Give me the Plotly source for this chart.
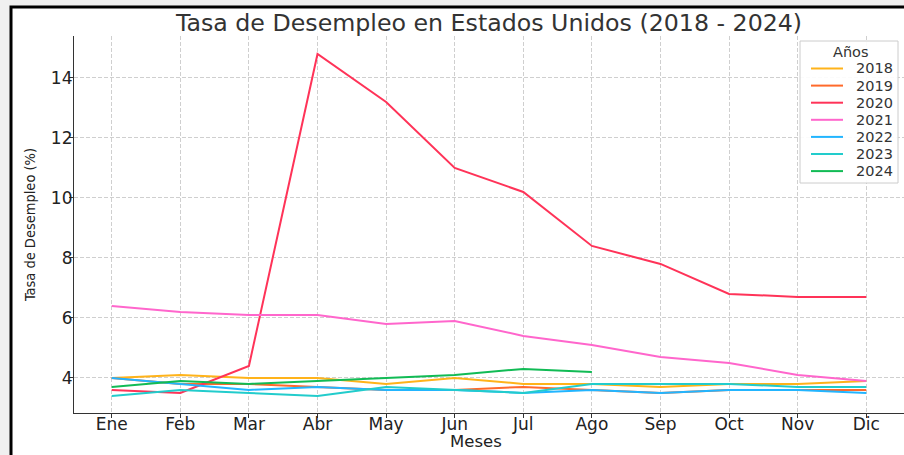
import plotly.graph_objects as go

meses = ["Ene", "Feb", "Mar", "Abr", "May", "Jun", "Jul", "Ago", "Sep", "Oct", "Nov", "Dic"]

tasa_2018 = [4.0, 4.1, 4.0, 4.0, 3.8, 4.0, 3.8, 3.8, 3.7, 3.8, 3.8, 3.9]
tasa_2019 = [4.0, 3.8, 3.8, 3.7, 3.6, 3.6, 3.7, 3.6, 3.5, 3.6, 3.6, 3.6]
tasa_2020 = [3.6, 3.5, 4.4, 14.8, 13.2, 11.0, 10.2, 8.4, 7.8, 6.8, 6.7, 6.7]
tasa_2021 = [6.4, 6.2, 6.1, 6.1, 5.8, 5.9, 5.4, 5.1, 4.7, 4.5, 4.1, 3.9]
tasa_2022 = [4.0, 3.8, 3.6, 3.7, 3.6, 3.6, 3.5, 3.6, 3.5, 3.6, 3.6, 3.5]
tasa_2023 = [3.4, 3.6, 3.5, 3.4, 3.7, 3.6, 3.5, 3.8, 3.8, 3.8, 3.7, 3.7]
tasa_2024 = [3.7, 3.9, 3.8, 3.9, 4.0, 4.1, 4.3, 4.2]

y_ticks = [4, 6, 8, 10, 12, 14]

series = [
    ("2018", tasa_2018, "#FFB31A"),
    ("2019", tasa_2019, "#FF6A2B"),
    ("2020", tasa_2020, "#FF3358"),
    ("2021", tasa_2021, "#FF66CC"),
    ("2022", tasa_2022, "#22B5FF"),
    ("2023", tasa_2023, "#22CCCC"),
    ("2024", tasa_2024, "#11BB55"),
]

fig = go.Figure()
xs = list(range(len(meses)))
for name, vals, color in series:
    fig.add_trace(go.Scatter(
        x=xs[:len(vals)], y=vals, mode="lines", name=name,
        line=dict(color=color, width=2), showlegend=False,
    ))

W, H = 904, 455
L, R, T, B = 74, 0, 36, 42
pw = W - L - R
ph = H - T - B

def px2x(px):
    return (px - L) / pw

def py2y(py):
    return (H - B - py) / ph

# figure frame (white area with black border, grey outside)
fig.add_shape(
    type="rect", xref="paper", yref="paper",
    x0=px2x(11), x1=1.3, y0=-0.5, y1=py2y(7),
    line=dict(color="black", width=3), fillcolor="white", layer="below",
)

fig.add_annotation(
    text="Meses", xref="paper", yref="paper",
    x=px2x(476), y=py2y(441), xanchor="center", yanchor="middle",
    showarrow=False, font=dict(family="DejaVu Sans", size=16.5, color="#222222"),
)

# legend box drawn in the matplotlib style
leg_font = dict(family="DejaVu Sans", size=14.5, color="#333333")
fig.add_shape(
    type="rect", xref="paper", yref="paper",
    x0=px2x(800), x1=px2x(898), y0=py2y(183), y1=py2y(41),
    line=dict(color="#cccccc", width=1), fillcolor="rgba(255,255,255,0.9)", layer="above",
)
fig.add_annotation(
    text="Años", xref="paper", yref="paper",
    x=px2x(851), y=py2y(52), xanchor="center", yanchor="middle",
    showarrow=False, font=leg_font,
)
for i, (name, vals, color) in enumerate(series):
    yc = py2y(68.5 + 17.1 * i)
    fig.add_shape(
        type="line", xref="paper", yref="paper",
        x0=px2x(811), x1=px2x(843), y0=yc, y1=yc,
        line=dict(color=color, width=2), layer="above",
    )
    fig.add_annotation(
        text=name, xref="paper", yref="paper",
        x=px2x(854), y=yc, xanchor="left", yanchor="middle",
        showarrow=False, font=leg_font,
    )

axis_common = dict(
    showline=True, linecolor="#333333", linewidth=1.2,
    ticks="outside", ticklen=4, tickcolor="#333333",
    showgrid=True, gridcolor="#cfcfcf", griddash="4px,2px", gridwidth=1,
    zeroline=False, mirror=False,
    tickfont=dict(family="DejaVu Sans", size=17, color="#222222"),
)

fig.update_layout(
    width=W, height=H,
    margin=dict(l=L, r=R, t=T, b=B),
    paper_bgcolor="#f0f0f0", plot_bgcolor="white",
    title=dict(
        text="Tasa de Desempleo en Estados Unidos (2018 - 2024)",
        x=0.5, xref="paper", xanchor="center",
        y=1 - 22.5 / H, yref="container", yanchor="middle",
        font=dict(family="DejaVu Sans", size=23.7, color="#333333"),
    ),
    xaxis=dict(
        axis_common,
        tickmode="array", tickvals=xs, ticktext=meses,
        range=[-0.55, 11.55], ticklabelstandoff=-9,
    ),
    yaxis=dict(
        axis_common,
        tickmode="array", tickvals=y_ticks, ticktext=[str(v) for v in y_ticks],
        range=[2.83, 15.4], ticklabelstandoff=-7,
        title=dict(text="Tasa de Desempleo (%)", standoff=11,
                   font=dict(family="DejaVu Sans Condensed", size=14.5, color="#222222")),
    ),
    showlegend=False,
)

fig.write_html(
    "out.html",
    config={"displayModeBar": False},
    post_script="document.body.style.margin='0';document.body.style.overflow='hidden';",
)
